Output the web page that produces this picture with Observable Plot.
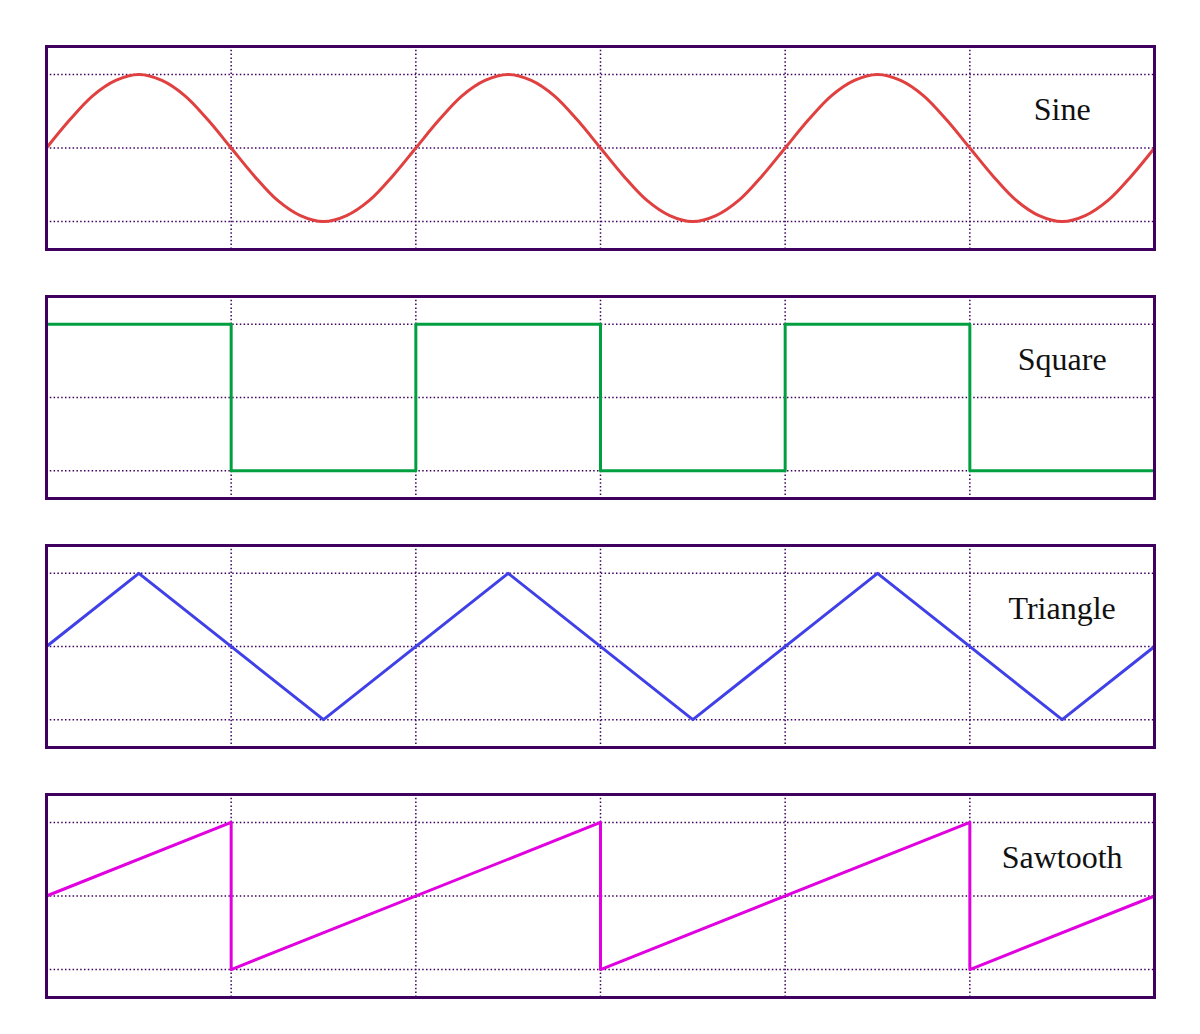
<!DOCTYPE html>
<html>
<head>
<meta charset="utf-8">
<script src="https://cdn.jsdelivr.net/npm/d3@7"></script>
<script src="https://cdn.jsdelivr.net/npm/@observablehq/plot@0.6"></script>
<style>
  html, body { margin: 0; padding: 0; background: white; overflow: hidden; }
  #chart svg { display: block; }
</style>
</head>
<body>
<div id="chart"></div>
<script>
// ---- data ----
const panelNames = ["Sine", "Square", "Triangle", "Sawtooth"];
const panelColors = ["#e04040", "#00a040", "#4040e8", "#e000e0"];

const sineX = [0, 0.125, 0.25, 0.375, 0.5, 0.625, 0.75, 0.875, 1, 1.125, 1.25, 1.375, 1.5, 1.625, 1.75, 1.875,
               2, 2.125, 2.25, 2.375, 2.5, 2.625, 2.75, 2.875, 3, 3.125, 3.25, 3.375, 3.5, 3.625, 3.75, 3.875,
               4, 4.125, 4.25, 4.375, 4.5, 4.625, 4.75, 4.875, 5, 5.125, 5.25, 5.375, 5.5, 5.625, 5.75, 5.875, 6];
const sineY = [0, 0.38, 0.71, 0.92, 1, 0.92, 0.71, 0.38, 0, -0.38, -0.71, -0.92, -1, -0.92, -0.71, -0.38,
               0, 0.38, 0.71, 0.92, 1, 0.92, 0.71, 0.38, 0, -0.38, -0.71, -0.92, -1, -0.92, -0.71, -0.38,
               0, 0.38, 0.71, 0.92, 1, 0.92, 0.71, 0.38, 0, -0.38, -0.71, -0.92, -1, -0.92, -0.71, -0.38, 0];

const squareX = [0, 1, 1, 2, 2, 3, 3, 4, 4, 5, 5, 6];
const squareY = [1, 1, -1, -1, 1, 1, -1, -1, 1, 1, -1, -1];

const triangleX = [0, 0.5, 1.5, 2.5, 3.5, 4.5, 5.5, 6];
const triangleY = [0, 1, -1, 1, -1, 1, -1, 0];

const sawX = [0, 1, 1, 3, 3, 5, 5, 6];
const sawY = [0, 1, -1, 1, -1, 1, -1, 0];

const gridXTicks = [1, 2, 3, 4, 5];
const gridYTicks = [-1, 0, 1];

const series = [
  {x: sineX, y: sineY, curve: "catmull-rom"},
  {x: squareX, y: squareY, curve: "linear"},
  {x: triangleX, y: triangleY, curve: "linear"},
  {x: sawX, y: sawY, curve: "linear"}
];

// layout per panel: [marginTop, innerHeight, marginBottom]
const layouts = [[46, 203, 2], [45, 202, 2], [45, 202, 2], [45, 203, 37]];

const frameColor = "#400060";
const container = document.getElementById("chart");

series.forEach((s, i) => {
  const [mt, ih, mb] = layouts[i];
  const pts = s.x.map((x, j) => ({x, y: s.y[j]}));
  const plot = Plot.plot({
    width: 1200,
    height: mt + ih + mb,
    marginLeft: 46,
    marginRight: 46,
    marginTop: mt,
    marginBottom: mb,
    style: {background: "white", overflow: "visible"},
    x: {domain: [0, 6], axis: null},
    y: {domain: [-1.38, 1.38], axis: null},
    marks: [
      Plot.ruleX(gridXTicks, {stroke: frameColor, strokeWidth: 1.5, strokeDasharray: "1.5,2.3"}),
      Plot.ruleY(gridYTicks, {stroke: frameColor, strokeWidth: 1.5, strokeDasharray: "1.5,2.3"}),
      Plot.line(pts, {x: "x", y: "y", stroke: panelColors[i], strokeWidth: 3, curve: s.curve}),
      Plot.text([panelNames[i]], {x: 5.5, y: 0.5, dy: -1, text: d => d, fontSize: 32, fontFamily: "'Liberation Serif', 'Times New Roman', Times, serif", fill: "#111", textAnchor: "middle"}),
      Plot.frame({stroke: frameColor, strokeWidth: 3})
    ]
  });
  container.appendChild(plot);
});
</script>
</body>
</html>
